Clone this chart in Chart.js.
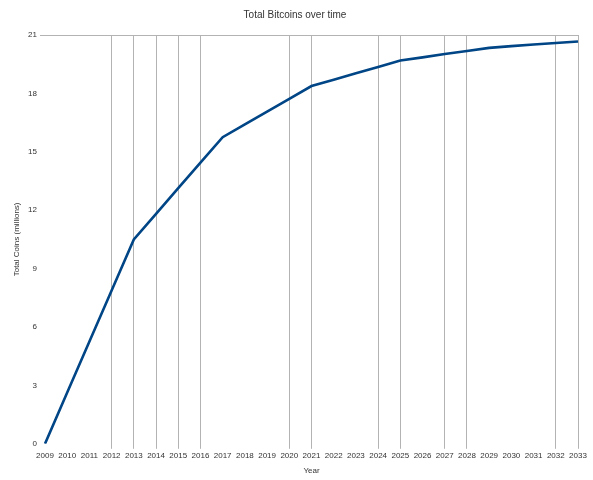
<!DOCTYPE html>
<html>
<head>
<meta charset="utf-8">
<script src="https://cdn.jsdelivr.net/npm/chart.js@4"></script>
<style>
  html, body { margin: 0; padding: 0; background: #fff; }
  #wrap { width: 593px; height: 480px; }
</style>
</head>
<body>
<div id="wrap"><canvas id="coinsChart" width="593" height="480"></canvas></div>
<script>
// Données
const years = ['2009', '2010', '2011', '2012', '2013', '2014', '2015', '2016', '2017', '2018', '2019', '2020',
    '2021', '2022', '2023', '2024', '2025', '2026', '2027', '2028', '2029', '2030', '2031', '2032', '2033'];
const totalCoins = [0, 2.63, 5.25, 7.88, 10.5, 11.81, 13.13, 14.44, 15.75, 16.41, 17.06, 17.72,
    18.38, 18.7, 19.03, 19.36, 19.69, 19.85, 20.02, 20.18, 20.34, 20.43, 20.51, 20.59, 20.67];
const gridYears = ['2012', '2013', '2014', '2015', '2016', '2020', '2021', '2024', '2025', '2027', '2028', '2032', '2033'];
const yTicks = [0, 3, 6, 9, 12, 15, 18, 21];

const gridGrey = '#b3b3b3';
const txt = '#333333';

const coinsChart = new Chart(document.getElementById('coinsChart'), {
    type: 'line',
    data: {
        labels: years,
        datasets: [{
            label: 'Total Coins',
            data: totalCoins,
            borderColor: '#004586',
            borderWidth: 2.6,
            pointRadius: 0,
            fill: false,
            tension: 0
        }]
    },
    options: {
        responsive: false,
        animation: false,
        layout: { padding: { left: 12, right: 15, top: 0, bottom: 4 } },
        plugins: {
            legend: { display: false },
            tooltip: { enabled: false },
            title: {
                display: true,
                text: 'Total Bitcoins over time',
                color: txt,
                font: { family: 'Liberation Sans', size: 10, weight: 'normal' },
                padding: { top: 9, bottom: 14 }
            }
        },
        scales: {
            x: {
                offset: false,
                border: { display: false },
                grid: {
                    color: ctx => gridYears.includes(years[ctx.index]) ? gridGrey : 'rgba(0,0,0,0)',
                    tickLength: 5
                },
                ticks: {
                    autoSkip: false,
                    maxRotation: 0,
                    color: txt,
                    padding: 2,
                    font: { family: 'Liberation Sans', size: 8 }
                },
                title: {
                    display: true,
                    text: 'Year',
                    color: txt,
                    padding: { top: 4, bottom: 0 },
                    font: { family: 'Liberation Sans', size: 8 }
                }
            },
            y: {
                min: 0,
                max: 21,
                border: { display: false },
                afterBuildTicks: axis => { axis.ticks = yTicks.map(v => ({ value: v })); },
                grid: {
                    color: ctx => ctx.tick && ctx.tick.value === 21 ? gridGrey : 'rgba(0,0,0,0)',
                    tickLength: 5
                },
                ticks: {
                    color: txt,
                    padding: 3,
                    font: { family: 'Liberation Sans', size: 8 }
                },
                title: {
                    display: true,
                    text: 'Total Coins (millions)',
                    color: txt,
                    padding: { top: 0, bottom: 4 },
                    font: { family: 'Liberation Sans', size: 8 }
                },
                afterFit: axis => { axis.width = 33; }
            }
        }
    }
});
</script>
</body>
</html>
